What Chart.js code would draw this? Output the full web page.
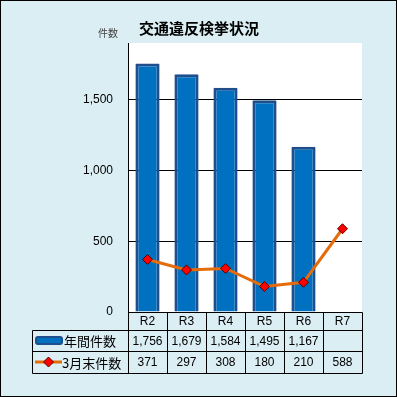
<!DOCTYPE html>
<html>
<head>
<meta charset="utf-8">
<script src="https://cdn.jsdelivr.net/npm/chart.js@4/dist/chart.umd.min.js"></script>
<style>
  html, body { margin: 0; padding: 0; background: #dbeef4; }
  #wrap { width: 397px; height: 397px; position: relative; }
</style>
</head>
<body>
<div id="wrap"><canvas id="chart" width="397" height="397"></canvas></div>
<script>
const years = ['R2', 'R3', 'R4', 'R5', 'R6', 'R7'];
const annualCounts = [1756, 1679, 1584, 1495, 1167, null];
const marchCounts = [371, 297, 308, 180, 210, 588];
const yTicks = [0, 500, 1000, 1500];
const seriesNames = ['年間件数', '3月末件数'];
const chartTitle = '交通違反検挙状況';
const unitLabel = '件数';

const BLUE = '#0070c0';
const BLUE_EDGE = '#1f4e8c';
const ORANGE = '#e46c0a';
const RED = '#ff0000';
const FONT = '"Noto Sans CJK JP", "Noto Sans", sans-serif';

function fmt(v) {
  return v == null ? '' : v.toLocaleString('en-US');
}

// background, white plot area, title, unit label, frame
const backdrop = {
  id: 'backdrop',
  beforeDraw(chart) {
    const { ctx, chartArea: a } = chart;
    ctx.save();
    ctx.fillStyle = '#dbeef4';
    ctx.fillRect(0, 0, chart.width, chart.height);
    ctx.fillStyle = '#ffffff';
    ctx.fillRect(a.left, a.top, a.right - a.left, a.bottom - a.top);
    ctx.restore();
  },
  afterDraw(chart) {
    const { ctx } = chart;
    ctx.save();
    ctx.fillStyle = '#000';
    ctx.font = 'bold 15px ' + FONT;
    ctx.textAlign = 'center';
    ctx.textBaseline = 'middle';
    ctx.fillText(chartTitle, 199, 28);
    ctx.fillStyle = '#444';
    ctx.font = '10px ' + FONT;
    ctx.fillText(unitLabel, 108, 33);
    ctx.strokeStyle = '#000';
    ctx.lineWidth = 1;
    ctx.strokeRect(0.5, 0.5, chart.width - 1, chart.height - 1);
    ctx.restore();
  }
};

// data table under the plot
const dataTable = {
  id: 'dataTable',
  afterDraw(chart) {
    const { ctx, chartArea: a } = chart;
    const x = chart.scales.x;
    const half = (x.getPixelForValue(1) - x.getPixelForValue(0)) / 2;
    const rows = [a.bottom, 330, 351, 373];
    const labelLeft = 32;
    const colEdges = years.map((_, i) => x.getPixelForValue(i) - half);
    colEdges.push(x.getPixelForValue(years.length - 1) + half);

    ctx.save();
    ctx.fillStyle = '#000';
    ctx.strokeStyle = '#000';
    ctx.lineWidth = 1;
    const px = v => Math.round(v) + 0.5;

    // horizontal lines
    ctx.beginPath();
    ctx.moveTo(px(colEdges[0]), px(rows[0]));
    ctx.lineTo(px(colEdges[colEdges.length - 1]), px(rows[0]));
    for (let r = 1; r < rows.length; r++) {
      ctx.moveTo(labelLeft + 0.5, px(rows[r]));
      ctx.lineTo(px(colEdges[colEdges.length - 1]), px(rows[r]));
    }
    // vertical lines
    ctx.moveTo(labelLeft + 0.5, px(rows[1]));
    ctx.lineTo(labelLeft + 0.5, px(rows[3]));
    colEdges.forEach(e => {
      ctx.moveTo(px(e), px(rows[0]));
      ctx.lineTo(px(e), px(rows[3]));
    });
    ctx.stroke();

    ctx.textBaseline = 'middle';
    ctx.textAlign = 'center';
    ctx.font = '12px "Liberation Sans", ' + FONT;
    years.forEach((y, i) => {
      const cx = x.getPixelForValue(i);
      ctx.fillText(y, cx, (rows[0] + rows[1]) / 2 + 1);
      ctx.fillText(fmt(annualCounts[i]), cx, (rows[1] + rows[2]) / 2 + 1);
      ctx.fillText(fmt(marchCounts[i]), cx, (rows[2] + rows[3]) / 2 + 1);
    });

    // legend keys
    const y1 = (rows[1] + rows[2]) / 2;
    ctx.fillStyle = BLUE;
    ctx.strokeStyle = BLUE_EDGE;
    ctx.lineWidth = 2;
    ctx.beginPath();
    ctx.roundRect(36, y1 - 3.5, 26, 7, 2);
    ctx.fill();
    ctx.stroke();

    const y2 = (rows[2] + rows[3]) / 2;
    ctx.strokeStyle = ORANGE;
    ctx.lineWidth = 3;
    ctx.beginPath();
    ctx.moveTo(35, y2);
    ctx.lineTo(62, y2);
    ctx.stroke();
    ctx.fillStyle = RED;
    ctx.strokeStyle = '#5a0000';
    ctx.lineWidth = 1;
    ctx.beginPath();
    ctx.moveTo(48.5, y2 - 5);
    ctx.lineTo(53.5, y2);
    ctx.lineTo(48.5, y2 + 5);
    ctx.lineTo(43.5, y2);
    ctx.closePath();
    ctx.fill();
    ctx.stroke();

    ctx.fillStyle = '#000';
    ctx.textAlign = 'left';
    ctx.font = '13px ' + FONT;
    ctx.fillText(seriesNames[0], 64, y1 + 1);
    ctx.fillText(seriesNames[1], 62, y2 + 1);
    ctx.restore();
  }
};

new Chart(document.getElementById('chart'), {
  data: {
    labels: years,
    datasets: [
      {
        type: 'line',
        label: seriesNames[1],
        data: marchCounts,
        order: 0,
        borderColor: ORANGE,
        borderWidth: 3,
        tension: 0,
        pointStyle: 'rectRot',
        pointRadius: 5,
        pointBackgroundColor: RED,
        pointBorderColor: '#5a0000',
        pointBorderWidth: 1
      },
      {
        type: 'bar',
        label: seriesNames[0],
        data: annualCounts,
        order: 1,
        backgroundColor: BLUE,
        borderColor: BLUE_EDGE,
        borderWidth: 3,
        borderSkipped: 'bottom',
        borderRadius: 1,
        categoryPercentage: 1,
        barPercentage: 0.62
      }
    ]
  },
  options: {
    responsive: false,
    animation: false,
    layout: { padding: { left: 58, top: 43, right: 35, bottom: 85 } },
    plugins: {
      legend: { display: false },
      tooltip: { enabled: false }
    },
    scales: {
      x: { display: false },
      y: {
        min: 0,
        max: 1900,
        afterFit(s) { s.width = 70; },
        afterBuildTicks(s) { s.ticks = yTicks.map(v => ({ value: v })); },
        border: { display: true, color: '#000', width: 1 },
        grid: { color: '#000', lineWidth: 1, drawTicks: false },
        ticks: {
          padding: 15,
          color: '#000',
          font: { family: '"Liberation Sans", sans-serif', size: 12 },
          callback: v => fmt(v)
        }
      }
    }
  },
  plugins: [backdrop, dataTable]
});
</script>
</body>
</html>
